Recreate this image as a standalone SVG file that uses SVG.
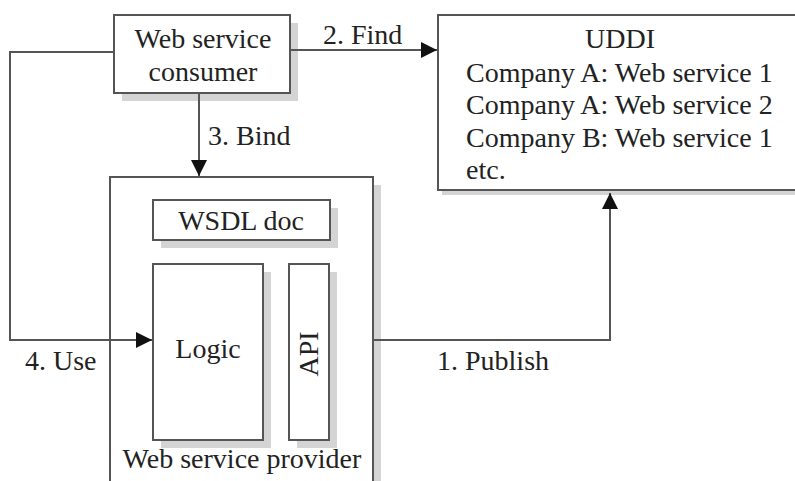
<svg xmlns="http://www.w3.org/2000/svg" width="795" height="481" viewBox="0 0 795 481">
<style>
.box{fill:#fff;stroke:#555;stroke-width:2}
.sh{fill:#d4d4d4}
.t{font-family:"Liberation Serif","Times New Roman",serif;font-size:28px;fill:#222}
.c{text-anchor:middle}
.ln{fill:none;stroke:#555;stroke-width:2}
</style>
<defs>
<marker id="arr" viewBox="0 0 16 16" refX="16" refY="8" markerWidth="16" markerHeight="16" markerUnits="userSpaceOnUse" orient="auto">
<path d="M0,0 L16,8 L0,16 z" fill="#111"/>
</marker>
</defs>
<rect width="795" height="481" fill="#fff"/>

<g id="consumer">
<rect class="sh" x="122" y="23" width="176" height="78"/>
<rect class="box" x="114" y="15" width="176" height="78"/>
<text class="t c" x="203" y="48">Web service</text>
<text class="t c" x="203" y="81">consumer</text>
</g>

<g id="uddi">
<rect class="sh" x="442" y="19" width="360" height="176"/>
<rect class="box" x="438" y="15" width="360" height="175"/>
<text class="t c" x="620" y="48">UDDI</text>
<text class="t" x="466" y="82">Company A: Web service 1</text>
<text class="t" x="466" y="114">Company A: Web service 2</text>
<text class="t" x="466" y="147">Company B: Web service 1</text>
<text class="t" x="466" y="179">etc.</text>
</g>

<g id="provider">
<rect class="sh" x="118" y="185" width="263" height="310"/>
<rect class="box" x="110" y="177" width="263" height="310"/>
<text class="t c" x="242" y="468">Web service provider</text>
</g>

<g id="wsdl">
<rect class="sh" x="161" y="208" width="177" height="40"/>
<rect class="box" x="153" y="200" width="177" height="40"/>
<text class="t c" x="241" y="230">WSDL doc</text>
</g>

<g id="logic">
<rect class="sh" x="161" y="272" width="110" height="176"/>
<rect class="box" x="153" y="264" width="110" height="176"/>
<text class="t c" x="208" y="358">Logic</text>
</g>

<g id="api">
<rect class="sh" x="297" y="272" width="40" height="176"/>
<rect class="box" x="289" y="264" width="40" height="176"/>
<text class="t c" transform="translate(318,354) rotate(-90)" x="0" y="0">API</text>
</g>

<g id="connectors">
<line class="ln" x1="290" y1="50" x2="437" y2="50" marker-end="url(#arr)"/>
<text class="t" x="323" y="44">2. Find</text>
<line class="ln" x1="199" y1="93" x2="199" y2="176" marker-end="url(#arr)"/>
<text class="t" x="208" y="145">3. Bind</text>
<polyline class="ln" points="114,52 10,52 10,340 152,340" marker-end="url(#arr)"/>
<text class="t" x="25" y="370">4. Use</text>
<polyline class="ln" points="373,340 610,340 610,193" marker-end="url(#arr)"/>
<text class="t" x="437" y="370">1. Publish</text>
</g>
</svg>
